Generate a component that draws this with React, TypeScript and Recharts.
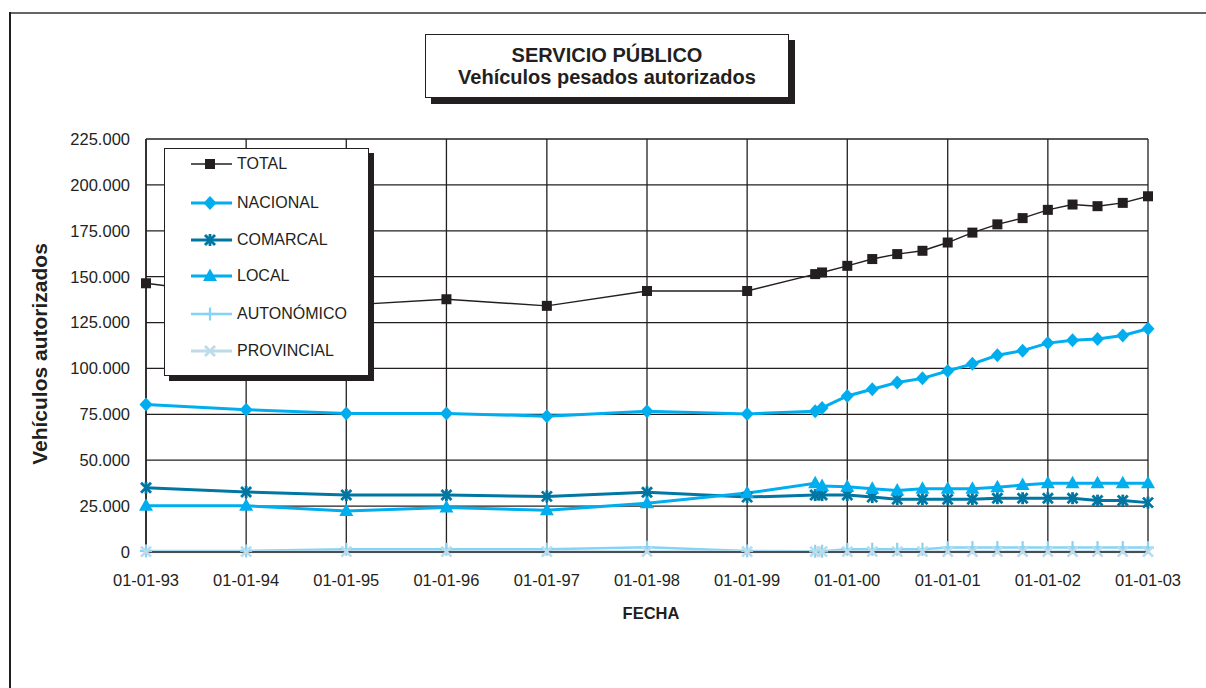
import React from 'react';
import { LineChart, Line, XAxis, YAxis, CartesianGrid } from 'recharts';

// ---- data ----
const fechas = [
  '1993-01-01', '1994-01-01', '1995-01-01', '1996-01-01', '1997-01-01', '1998-01-01',
  '1999-01-01', '1999-09-06', '1999-10-01', '2000-01-01', '2000-04-01', '2000-07-01',
  '2000-10-01', '2001-01-01', '2001-04-01', '2001-07-01', '2001-10-01', '2002-01-01',
  '2002-04-01', '2002-07-01', '2002-10-01', '2003-01-01',
];
const totalVals = [146400, 139500, 134500, 137700, 134100, 142200, 142200, 151400, 152300, 155900, 159600, 162300, 164100, 168600, 174000, 178500, 181900, 186400, 189300, 188400, 190200, 193800];
const nacionalVals = [80300, 77500, 75500, 75500, 74000, 76700, 75200, 76700, 78500, 85000, 88700, 92300, 94600, 98600, 102500, 107200, 109700, 113800, 115300, 116000, 118000, 121600];
const comarcalVals = [35000, 32700, 31000, 31000, 30300, 32500, 29900, 31000, 31000, 31000, 29900, 28800, 28800, 28800, 28800, 29300, 29300, 29300, 29300, 28000, 28000, 26900];
const localVals = [25200, 25200, 22400, 24200, 22700, 26500, 32100, 37400, 35900, 35500, 34400, 33500, 34400, 34400, 34400, 35300, 36500, 37400, 37400, 37400, 37400, 37400];
const autonomicoVals = [600, 600, 1500, 1500, 1500, 2600, 600, 400, 400, 1500, 1500, 1500, 1500, 2400, 2400, 2400, 2400, 2400, 2400, 2400, 2400, 2400];
const provincialVals = [200, 200, 200, 200, 200, 200, 200, 200, 200, 200, 200, 200, 200, 200, 200, 200, 200, 200, 200, 200, 200, 200];

const yTicks = [0, 25000, 50000, 75000, 100000, 125000, 150000, 175000, 200000, 225000];
const xTickDates = ['1993-01-01', '1994-01-01', '1995-01-01', '1996-01-01', '1997-01-01', '1998-01-01', '1999-01-01', '2000-01-01', '2001-01-01', '2002-01-01', '2003-01-01'];

const FONT = '"Liberation Sans", Arial, Helvetica, sans-serif';
const INK = '#231f20';

const toTs = (s: string) => Date.parse(s + 'T00:00:00Z');
const xTicks = xTickDates.map(toTs);

const data = fechas.map((f, i) => ({
  t: toTs(f),
  total: totalVals[i],
  nacional: nacionalVals[i],
  comarcal: comarcalVals[i],
  local: localVals[i],
  autonomico: autonomicoVals[i],
  provincial: provincialVals[i],
}));

const pad = (n: number) => (n < 10 ? '0' + n : '' + n);
const fmtDate = (ts: number) => {
  const d = new Date(ts);
  return `${pad(d.getUTCDate())}-${pad(d.getUTCMonth() + 1)}-${pad(d.getUTCFullYear() % 100)}`;
};
const fmtY = (v: number) => (v === 0 ? '0' : `${Math.round(v / 1000)}.000`);

type Shape = 'square' | 'diamond' | 'asterisk' | 'triangle' | 'plus' | 'cross';

const series: { key: string; name: string; color: string; width: number; shape: Shape }[] = [
  { key: 'total', name: 'TOTAL', color: INK, width: 1.4, shape: 'square' },
  { key: 'nacional', name: 'NACIONAL', color: '#00aeef', width: 3, shape: 'diamond' },
  { key: 'comarcal', name: 'COMARCAL', color: '#0076a3', width: 3, shape: 'asterisk' },
  { key: 'local', name: 'LOCAL', color: '#00aeef', width: 3, shape: 'triangle' },
  { key: 'autonomico', name: 'AUTONÓMICO', color: '#86d3f5', width: 2.5, shape: 'plus' },
  { key: 'provincial', name: 'PROVINCIAL', color: '#bddbe9', width: 3, shape: 'cross' },
];

function Marker({ shape, cx, cy, color }: { shape: Shape; cx: number; cy: number; color: string }) {
  if (cx == null || cy == null || isNaN(cx) || isNaN(cy)) return null;
  switch (shape) {
    case 'square':
      return <rect x={cx - 5} y={cy - 5} width={10} height={10} fill={color} />;
    case 'diamond':
      return <polygon points={`${cx},${cy - 7} ${cx + 6.5},${cy} ${cx},${cy + 7} ${cx - 6.5},${cy}`} fill={color} />;
    case 'triangle':
      return <polygon points={`${cx},${cy - 7.5} ${cx + 7},${cy + 5} ${cx - 7},${cy + 5}`} fill={color} />;
    case 'asterisk':
      return (
        <g stroke={color} strokeWidth={2.8}>
          <line x1={cx - 5} y1={cy - 5} x2={cx + 5} y2={cy + 5} />
          <line x1={cx - 5} y1={cy + 5} x2={cx + 5} y2={cy - 5} />
          <line x1={cx} y1={cy - 6} x2={cx} y2={cy + 6} />
        </g>
      );
    case 'plus':
      return (
        <g stroke={color} strokeWidth={2.2}>
          <line x1={cx - 6} y1={cy} x2={cx + 6} y2={cy} />
          <line x1={cx} y1={cy - 6.5} x2={cx} y2={cy + 6.5} />
        </g>
      );
    case 'cross':
      return (
        <g stroke={color} strokeWidth={2.8}>
          <line x1={cx - 5} y1={cy - 5} x2={cx + 5} y2={cy + 5} />
          <line x1={cx - 5} y1={cy + 5} x2={cx + 5} y2={cy - 5} />
        </g>
      );
  }
  return null;
}

function LegendBox() {
  const rowY = [15, 53.5, 90.5, 127, 164.5, 202];
  return (
    <div
      style={{
        position: 'absolute', left: 164, top: 148, width: 205, height: 228, boxSizing: 'border-box',
        border: `1.5px solid ${INK}`, background: '#fff', boxShadow: `5px 5px 0 ${INK}`,
      }}
    >
      {series.map((s, i) => (
        <div key={s.key} style={{ position: 'absolute', left: 0, top: rowY[i] - 11, height: 22, width: 200 }}>
          <svg width={50} height={22} style={{ position: 'absolute', left: 24, top: 0 }}>
            <line x1={2} y1={11} x2={43} y2={11} stroke={s.color} strokeWidth={s.width} />
            <Marker shape={s.shape} cx={21} cy={11} color={s.color} />
          </svg>
          <span
            style={{
              position: 'absolute', left: 72, top: 0, lineHeight: '22px', fontSize: 16,
              fontFamily: FONT, color: INK, whiteSpace: 'nowrap',
            }}
          >
            {s.name}
          </span>
        </div>
      ))}
    </div>
  );
}

export default function App() {
  return (
    <div style={{ position: 'fixed', left: 0, top: 0, width: 1206, height: 688, background: '#fff', overflow: 'hidden', fontFamily: FONT }}>
      {/* outer frame */}
      <div style={{ position: 'absolute', left: 9, top: 12, width: 1197, height: 0, borderTop: '2px solid #666' }} />
      <div style={{ position: 'absolute', left: 9, top: 12, width: 0, height: 676, borderLeft: `2px solid ${INK}` }} />

      <div style={{ position: 'absolute', left: 0, top: 0 }}>
        <LineChart width={1206} height={688} data={data} margin={{ top: 139, right: 58, bottom: 0, left: 0 }}>
          <CartesianGrid stroke={INK} strokeWidth={1.3} />
          <XAxis
            dataKey="t"
            type="number"
            domain={[xTicks[0], xTicks[xTicks.length - 1]]}
            ticks={xTicks}
            interval={0}
            tickFormatter={fmtDate}
            tickLine={false}
            tickMargin={16}
            height={136}
            axisLine={{ stroke: INK, strokeWidth: 1.5 }}
            tick={{ fontSize: 16.5, fill: INK, fontFamily: FONT }}
          />
          <YAxis
            type="number"
            domain={[0, 225000]}
            ticks={yTicks}
            interval={0}
            tickFormatter={fmtY}
            tickLine={false}
            tickMargin={10}
            width={146}
            axisLine={{ stroke: INK, strokeWidth: 1.5 }}
            tick={{ fontSize: 16.5, fill: INK, fontFamily: FONT }}
          />
          {series.map((s) => (
            <Line
              key={s.key}
              dataKey={s.key}
              name={s.name}
              type="linear"
              stroke={s.color}
              strokeWidth={s.width}
              isAnimationActive={false}
              dot={(p: any) => (
                <g key={`${s.key}-${p.index}`}>
                  <Marker shape={s.shape} cx={p.cx} cy={p.cy} color={s.color} />
                </g>
              )}
              activeDot={false}
            />
          ))}
        </LineChart>
      </div>

      {/* title */}
      <div
        style={{
          position: 'absolute', left: 425, top: 34, width: 364, height: 64, boxSizing: 'border-box',
          border: `1.5px solid ${INK}`, background: '#fff', boxShadow: `6px 6px 0 ${INK}`,
          display: 'flex', flexDirection: 'column', alignItems: 'center', justifyContent: 'center',
          fontWeight: 'bold', fontSize: 20, lineHeight: '22px', color: INK, textAlign: 'center',
        }}
      >
        <div>SERVICIO PÚBLICO</div>
        <div>Vehículos pesados autorizados</div>
      </div>

      <LegendBox />

      {/* axis titles */}
      <div
        style={{
          position: 'absolute', left: 40, top: 354, transform: 'translate(-50%, -50%) rotate(-90deg)',
          whiteSpace: 'nowrap', fontWeight: 'bold', fontSize: 21, color: INK,
        }}
      >
        Vehículos autorizados
      </div>
      <div
        style={{
          position: 'absolute', left: 551, top: 603, width: 200, textAlign: 'center',
          fontWeight: 'bold', fontSize: 16.5, lineHeight: '20px', color: INK,
        }}
      >
        FECHA
      </div>
    </div>
  );
}
